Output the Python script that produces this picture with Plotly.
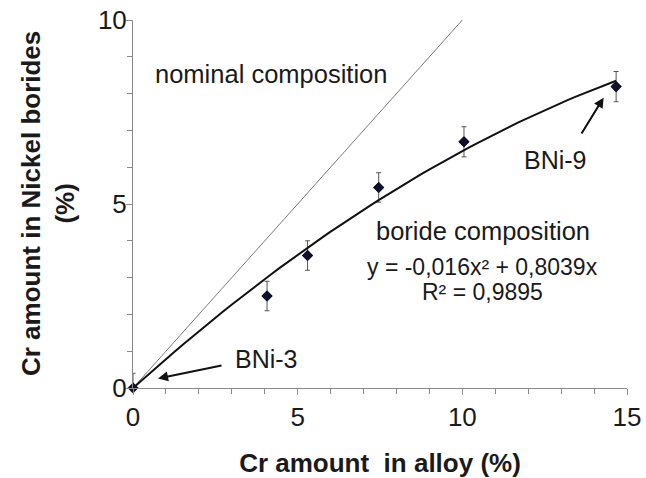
import plotly.graph_objects as go

# Data
cr_alloy = [0, 4.07, 5.3, 7.46, 10.05, 14.67]
cr_boride = [0, 2.5, 3.6, 5.45, 6.69, 8.19]
cr_err = [0.4, 0.4, 0.4, 0.4, 0.41, 0.41]

nominal_x = [0, 10]
nominal_y = [0, 10]

# Trendline shown on the chart: y = -0,016x^2 + 0,8039x
fit_a = -0.016
fit_b = 0.8039
fit_n = 60
fit_x = [cr_alloy[-1] * i / (fit_n - 1) for i in range(fit_n)]
fit_y = [fit_a * v * v + fit_b * v for v in fit_x]

FONT = "Liberation Sans, Arial, sans-serif"
TXT = "#1a1a1a"
AX = "#8a8a8a"

fig = go.Figure()

fig.add_trace(go.Scatter(x=nominal_x, y=nominal_y, mode="lines",
                         line=dict(color="#7a7a7a", width=1), hoverinfo="skip"))
fig.add_trace(go.Scatter(x=cr_alloy, y=cr_boride, mode="markers",
                         marker=dict(symbol="diamond", size=8.5, color="#10102a"),
                         error_y=dict(type="data", array=cr_err, color="#555555",
                                      thickness=1, width=2.5),
                         cliponaxis=True))
fig.add_trace(go.Scatter(x=fit_x, y=fit_y, mode="lines",
                         line=dict(color="#111111", width=2), hoverinfo="skip"))
fig.add_trace(go.Scatter(x=cr_alloy, y=cr_boride, mode="markers",
                         marker=dict(symbol="diamond", size=8.5, color="#10102a"),
                         cliponaxis=False))

axis_common = dict(showline=True, linecolor=AX, linewidth=1, ticks="outside",
                   ticklen=6, tickcolor=AX, tickwidth=1, showgrid=False,
                   zeroline=False, tick0=0, ticklabeloverflow="allow",
                   tickfont=dict(family=FONT, size=26, color=TXT))

fig.update_xaxes(range=[0, 15], dtick=5,
                 minor=dict(dtick=1, ticks="outside", ticklen=5, tickcolor=AX,
                            showgrid=False),
                 title=dict(text="<b>Cr amount  in alloy (%)</b>",
                            font=dict(family=FONT, size=26, color=TXT), standoff=22),
                 **axis_common)
fig.update_yaxes(range=[0, 10], dtick=5, ticklabelstandoff=-6,
                 minor=dict(dtick=1, ticks="outside", ticklen=5, tickcolor=AX,
                            showgrid=False),
                 **axis_common)

ann = []
ann.append(dict(text="<b>Cr amount in Nickel borides<br>(%)</b>", xref="paper", yref="paper",
                x=0, y=0.5, xshift=-85, textangle=-90, showarrow=False,
                xanchor="center", yanchor="middle",
                font=dict(family=FONT, size=26, color=TXT)))
ann.append(dict(text="nominal composition", x=4.2, y=8.52, showarrow=False,
                font=dict(family=FONT, size=25.5, color=TXT)))
ann.append(dict(text="boride composition", x=10.62, y=4.27, showarrow=False,
                font=dict(family=FONT, size=25.5, color=TXT)))
ann.append(dict(text="y = -0,016x² + 0,8039x", x=10.62, y=3.28, showarrow=False,
                font=dict(family=FONT, size=23, color=TXT)))
ann.append(dict(text="R² = 0,9895", x=10.6, y=2.62, showarrow=False,
                font=dict(family=FONT, size=23, color=TXT)))
ann.append(dict(text="BNi-3", x=4.05, y=0.8, showarrow=False,
                font=dict(family=FONT, size=25, color=TXT)))
ann.append(dict(text="BNi-9", x=12.82, y=6.2, showarrow=False,
                font=dict(family=FONT, size=25, color=TXT)))
# arrows
ann.append(dict(text="", x=0.76, y=0.26, ax=65, ay=-13.3, axref="pixel", ayref="pixel",
                showarrow=True, arrowhead=2, arrowsize=1, arrowwidth=2,
                arrowcolor="#111111", standoff=0))
ann.append(dict(text="", x=14.29, y=7.89, ax=-23, ay=37.3, axref="pixel", ayref="pixel",
                showarrow=True, arrowhead=2, arrowsize=1, arrowwidth=2,
                arrowcolor="#111111", standoff=0))

fig.update_layout(width=646, height=478, showlegend=False,
                  paper_bgcolor="white", plot_bgcolor="white",
                  margin=dict(l=133.3, r=18.5, t=20, b=90.3, autoexpand=False),
                  annotations=ann)

# Remove the page body's default 8 px margin so the figure fills the window.
fig.write_html("out.html", config={"displayModeBar": False},
               post_script="document.body.style.margin='0';")
